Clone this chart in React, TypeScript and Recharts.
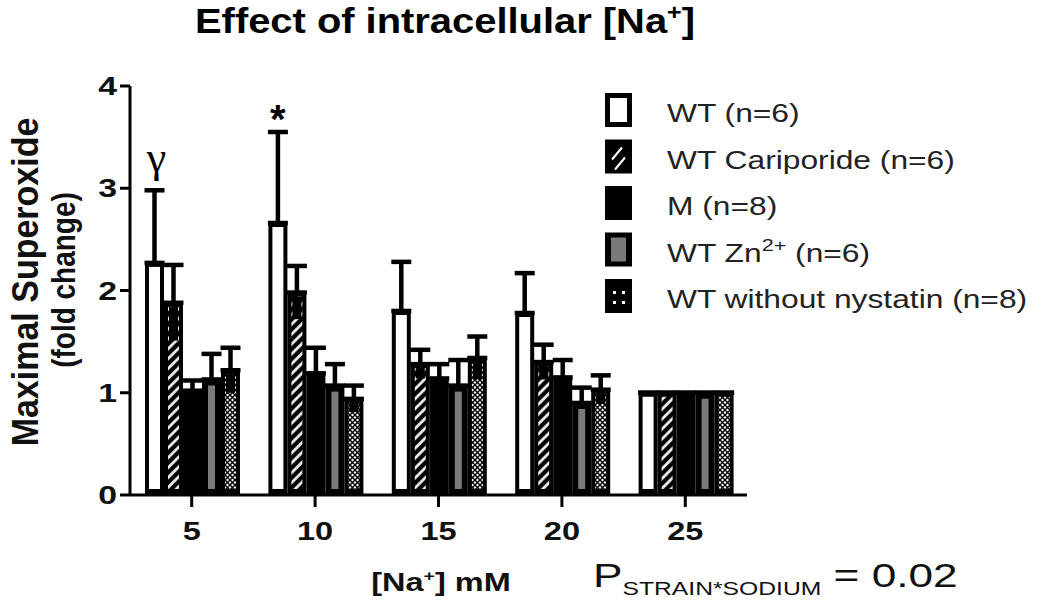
import { BarChart, Bar, XAxis, YAxis, ErrorBar, LabelList } from 'recharts';

const concentrations = ['5', '10', '15', '20', '25'];

const wtMean = [2.27, 2.66, 1.8, 1.78, 1.0];
const wtSem = [0.71, 0.89, 0.48, 0.39, 0];
const caripMean = [1.88, 1.98, 1.28, 1.3, 1.0];
const caripSem = [0.37, 0.26, 0.14, 0.17, 0];
const mutantMean = [1.02, 1.19, 1.14, 1.15, 1.0];
const mutantSem = [0.1, 0.25, 0.14, 0.17, 0];
const zincMean = [1.13, 1.07, 1.07, 0.9, 1.0];
const zincSem = [0.25, 0.21, 0.25, 0.15, 0];
const noNystMean = [1.22, 0.94, 1.34, 1.03, 1.0];
const noNystSem = [0.22, 0.13, 0.21, 0.14, 0];

const wtMarks = ['γ', '*', '', '', ''];
const yTicks = [0, 1, 2, 3, 4];

const data = concentrations.map((conc, i) => ({
  conc,
  wt: wtMean[i],
  wtErr: [0, wtSem[i]],
  carip: caripMean[i],
  caripErr: [0, caripSem[i]],
  caripSem: caripSem[i],
  mutant: mutantMean[i],
  mutantErr: [0, mutantSem[i]],
  zinc: zincMean[i],
  zincErr: [0, zincSem[i]],
  noNyst: noNystMean[i],
  noNystErr: [0, noNystSem[i]],
  noNystSem: noNystSem[i],
}));

const FONT = '"Liberation Sans", Arial, Helvetica, sans-serif';

type Fill = 'open' | 'hatch' | 'solid' | 'grey' | 'check';

// bar = thick black outline, pattern inside; the lower half of the error bar
// covers the pattern for the hatched / checked series
function barShape(fill: Fill, valueKey: string, semKey?: string) {
  return (props: any) => {
    const { x, y, width, height, payload } = props;
    if (!(height > 0)) return <g />;
    const inset = fill === 'grey' ? 6 : 4;
    const ix = x + inset;
    const iw = width - inset * 2;
    const iy = y + inset;
    const ih = height - inset - 6;
    let inner = null;
    if (fill === 'open') inner = <rect x={ix} y={iy} width={iw} height={ih} fill="#fff" />;
    if (fill === 'hatch') inner = <rect x={ix} y={iy} width={iw} height={ih} fill="url(#hatch)" />;
    if (fill === 'grey') inner = <rect x={ix} y={iy} width={iw} height={ih} fill="#7a7a7a" />;
    if (fill === 'check') inner = <rect x={ix} y={iy} width={iw} height={ih} fill="url(#check)" />;
    let cover = null;
    if (semKey && payload && payload[valueKey] > 0) {
      const px = (payload[semKey] * height) / payload[valueKey];
      const h = Math.min(px - inset, ih);
      if (h > 0) cover = <rect x={ix + 1} y={iy} width={iw - 2} height={h} fill="#000" />;
    }
    return (
      <g>
        <rect x={x} y={y} width={width} height={height} fill="#000" />
        {inner}
        {cover}
      </g>
    );
  };
}

const renderMark = (props: any) => {
  const vb = props.viewBox ?? props;
  const value = props.value;
  const idx = props.index ?? wtMean.indexOf(value);
  const mark = wtMarks[idx];
  if (!mark) return null;
  const pxPer = vb.height / wtMean[idx];
  const capTop = vb.y - wtSem[idx] * pxPer;
  const cx = vb.x + vb.width / 2;
  if (mark === 'γ') {
    return (
      <text x={cx + 2} y={capTop - 18} textAnchor="middle" fontFamily='"Liberation Serif", "DejaVu Serif", serif' fontSize={44} fill="#000">
        {mark}
      </text>
    );
  }
  return (
    <text x={cx} y={capTop + 1} textAnchor="middle" fontFamily={FONT} fontWeight="bold" fontSize={40} fill="#000">
      {mark}
    </text>
  );
};

const YTick = ({ x, y, payload }: any) => (
  <g transform={`translate(${x},${y})`}>
    <text transform="scale(1.3,1)" textAnchor="end" dy={9} fontFamily={FONT} fontSize={26} fontWeight="bold" fill="#111">
      {payload.value}
    </text>
  </g>
);

const XTick = ({ x, y, payload }: any) => (
  <g transform={`translate(${x},${y})`}>
    <text transform="scale(1.3,1)" textAnchor="middle" dy={33} fontFamily={FONT} fontSize={25} fontWeight="bold" fill="#111">
      {payload.value}
    </text>
  </g>
);

const legendRows: { kind: Fill; label: React.ReactNode }[] = [
  { kind: 'open', label: 'WT (n=6)' },
  { kind: 'hatch', label: 'WT Cariporide (n=6)' },
  { kind: 'solid', label: 'M (n=8)' },
  {
    kind: 'grey',
    label: (
      <>
        WT Zn<tspan fontSize={17} dy={-11}>2+</tspan>
        <tspan dy={11}>{' (n=6)'}</tspan>
      </>
    ),
  },
  { kind: 'check', label: 'WT without nystatin (n=8)' },
];

function LegendIcon({ kind, x, y }: { kind: Fill; x: number; y: number }) {
  const w = 27;
  const h = 34;
  return (
    <g>
      <rect x={x} y={y} width={w} height={h} fill="#000" />
      {kind === 'open' && <rect x={x + 5} y={y + 5} width={w - 10} height={h - 10} fill="#fff" />}
      {kind === 'grey' && <rect x={x + 6} y={y + 5} width={w - 12} height={h - 10} fill="#7a7a7a" />}
      {kind === 'hatch' && (
        <g stroke="#fff" strokeWidth={2}>
          <line x1={x + 7} y1={y + 20} x2={x + 17} y2={y + 8} />
          <line x1={x + 10} y1={y + 30} x2={x + 20} y2={y + 18} />
        </g>
      )}
      {kind === 'check' && (
        <g fill="#fff">
          <rect x={x + 8} y={y + 12} width={3} height={3} />
          <rect x={x + 17} y={y + 12} width={3} height={3} />
          <rect x={x + 8} y={y + 22} width={3} height={3} />
          <rect x={x + 17} y={y + 22} width={3} height={3} />
        </g>
      )}
    </g>
  );
}

function Overlay() {
  return (
    <svg width={1050} height={605} style={{ position: 'absolute', left: 0, top: 0, pointerEvents: 'none' }}>
      <g transform="translate(195,33) scale(1.14,1)">
        <text fontFamily={FONT} fontSize={35} fontWeight="bold" fill="#000">
          Effect of intracellular [Na<tspan fontSize={22} dy={-13}>+</tspan>
          <tspan dy={13}>]</tspan>
        </text>
      </g>

      <text transform="translate(38,282) rotate(-90) scale(1,1.1)" textAnchor="middle" fontFamily={FONT} fontSize={34} fontWeight="bold" fill="#111">
        Maximal Superoxide
      </text>
      <text transform="translate(75,280) rotate(-90) scale(1,1.2)" textAnchor="middle" fontFamily={FONT} fontSize={28} fontWeight="bold" fill="#111">
        (fold change)
      </text>

      <g transform="translate(441,591) scale(1.3,1)">
        <text textAnchor="middle" fontFamily={FONT} fontSize={25} fontWeight="bold" fill="#111">
          [Na<tspan fontSize={15} dy={-10}>+</tspan>
          <tspan dy={10}>] mM</tspan>
        </text>
      </g>

      <g transform="translate(593,587) scale(1.3,1)">
        <text fontFamily={FONT} fontSize={34} fill="#111">
          P<tspan fontSize={19} dy={8}>STRAIN*SODIUM</tspan>
          <tspan dy={-8}>{' = 0.02'}</tspan>
        </text>
      </g>

      {legendRows.map((row, i) => {
        const top = 93 + i * 46.5;
        return (
          <g key={i}>
            <LegendIcon kind={row.kind} x={605} y={top} />
            <g transform={`translate(667,${top + 29}) scale(1.27,1)`}>
              <text fontFamily={FONT} fontSize={25} fill="#222">
                {row.label}
              </text>
            </g>
          </g>
        );
      })}
    </svg>
  );
}

export default function App() {
  return (
    <div style={{ position: 'absolute', left: 0, top: 0, width: 1050, height: 605, background: '#fff' }}>
      <BarChart
        width={1050}
        height={605}
        data={data}
        margin={{ top: 86, right: 303, bottom: 70, left: 70 }}
        barGap={0}
        barCategoryGap={15}
      >
        <defs>
          <pattern id="hatch" patternUnits="userSpaceOnUse" width={7} height={7} patternTransform="rotate(45)">
            <rect width={7} height={7} fill="#000" />
            <line x1={1.5} y1={0} x2={1.5} y2={7} stroke="#fff" strokeWidth={2.6} />
          </pattern>
          <pattern id="check" patternUnits="userSpaceOnUse" width={5} height={5}>
            <rect width={5} height={5} fill="#fff" />
            <path d="M0 0 L5 5 M5 0 L0 5" stroke="#000" strokeWidth={1.4} />
          </pattern>
        </defs>
        <XAxis
          dataKey="conc"
          height={40}
          interval={0}
          tickSize={12}
          tickMargin={0}
          axisLine={{ stroke: '#000', strokeWidth: 3 }}
          tickLine={{ stroke: '#000', strokeWidth: 3 }}
          tick={<XTick />}
        />
        <YAxis
          width={60}
          domain={[0, 4]}
          ticks={yTicks}
          interval={0}
          tickSize={10}
          tickMargin={3}
          axisLine={{ stroke: '#000', strokeWidth: 3 }}
          tickLine={{ stroke: '#000', strokeWidth: 3 }}
          tick={<YTick />}
        />
        <Bar dataKey="wt" name="WT (n=6)" fill="#fff" isAnimationActive={false} shape={barShape('open', 'wt')}>
          <ErrorBar dataKey="wtErr" direction="y" width={10} strokeWidth={4.5} stroke="#000" />
          <LabelList dataKey="wt" content={renderMark} />
        </Bar>
        <Bar dataKey="carip" name="WT Cariporide (n=6)" fill="#000" isAnimationActive={false} shape={barShape('hatch', 'carip', 'caripSem')}>
          <ErrorBar dataKey="caripErr" direction="y" width={10} strokeWidth={4.5} stroke="#000" />
        </Bar>
        <Bar dataKey="mutant" name="M (n=8)" fill="#000" isAnimationActive={false} shape={barShape('solid', 'mutant')}>
          <ErrorBar dataKey="mutantErr" direction="y" width={10} strokeWidth={4.5} stroke="#000" />
        </Bar>
        <Bar dataKey="zinc" name="WT Zn2+ (n=6)" fill="#7a7a7a" isAnimationActive={false} shape={barShape('grey', 'zinc')}>
          <ErrorBar dataKey="zincErr" direction="y" width={10} strokeWidth={4.5} stroke="#000" />
        </Bar>
        <Bar dataKey="noNyst" name="WT without nystatin (n=8)" fill="#000" isAnimationActive={false} shape={barShape('check', 'noNyst', 'noNystSem')}>
          <ErrorBar dataKey="noNystErr" direction="y" width={10} strokeWidth={4.5} stroke="#000" />
        </Bar>
      </BarChart>
      <Overlay />
    </div>
  );
}
